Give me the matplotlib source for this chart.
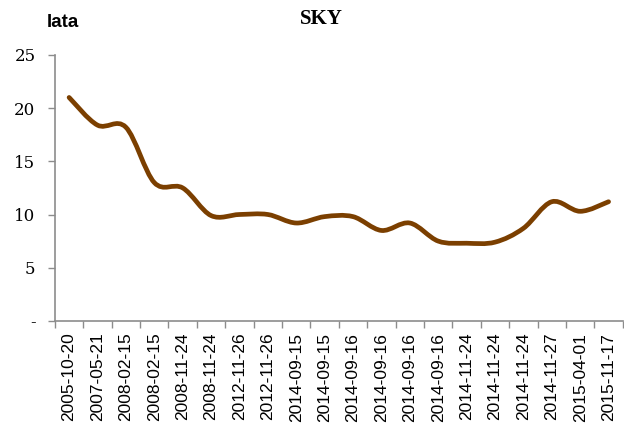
import matplotlib
matplotlib.use("Agg")
import matplotlib.pyplot as plt
import numpy as np
from matplotlib.path import Path
from matplotlib.patches import PathPatch

dates = ["2005-10-20", "2007-05-21", "2008-02-15", "2008-02-15", "2008-11-24",
         "2008-11-24", "2012-11-26", "2012-11-26", "2014-09-15", "2014-09-15",
         "2014-09-16", "2014-09-16", "2014-09-16", "2014-09-16", "2014-11-24",
         "2014-11-24", "2014-11-24", "2014-11-27", "2015-04-01", "2015-11-17"]
years = [21.0, 18.4, 18.2, 13.0, 12.5, 9.9, 10.0, 10.0, 9.2, 9.8,
         9.8, 8.5, 9.2, 7.5, 7.3, 7.4, 8.7, 11.2, 10.3, 11.2]

brown = "#7b3f00"
grey = "#8c8c8c"

fig = plt.figure(figsize=(6.24, 4.29), dpi=100)
ax = fig.add_axes([0.088, 0.252, 0.910, 0.620])

# smoothed line, Excel-style bezier through the points
x = np.arange(len(years), dtype=float)
y = np.array(years)
verts = [(x[0], y[0])]
codes = [Path.MOVETO]
n = len(x)
for i in range(n - 1):
    p0 = np.array([x[max(i - 1, 0)], y[max(i - 1, 0)]])
    p1 = np.array([x[i], y[i]])
    p2 = np.array([x[i + 1], y[i + 1]])
    p3 = np.array([x[min(i + 2, n - 1)], y[min(i + 2, n - 1)]])
    c1 = p1 + (p2 - p0) / 6.0
    c2 = p2 - (p3 - p1) / 6.0
    verts += [tuple(c1), tuple(c2), tuple(p2)]
    codes += [Path.CURVE4] * 3
ax.add_patch(PathPatch(Path(verts, codes), facecolor="none", edgecolor=brown,
                       lw=3.4, capstyle="round", joinstyle="round"))

ax.set_xlim(-0.5, n - 0.5)
ax.set_ylim(0, 25)

ax.set_xticks(x)
ax.set_xticklabels(dates, rotation=90, fontsize=12.5, family="Liberation Sans")
ax.set_xticks(np.arange(n + 1) - 0.5, minor=True)
ax.tick_params(axis="x", which="major", length=0, pad=8.5)
ax.tick_params(axis="x", which="minor", length=5, color=grey, width=1)

ax.set_yticks([0, 5, 10, 15, 20, 25])
ax.set_yticklabels(["-", "5", "10", "15", "20", "25"], fontsize=12,
                   family="DejaVu Serif")
ax.tick_params(axis="y", length=5, color=grey, width=1, pad=9)

for s in ["top", "right"]:
    ax.spines[s].set_visible(False)
for s in ["left", "bottom"]:
    ax.spines[s].set_color(grey)
    ax.spines[s].set_linewidth(1.2)

fig.text(0.515, 0.955, "SKY", ha="center", va="center", fontsize=15,
         fontweight="bold", family="Liberation Serif")
fig.text(0.075, 0.948, "lata", ha="left", va="center", fontsize=13.5,
         fontweight="bold", family="Liberation Sans")

fig.savefig("out.png", dpi=100)
